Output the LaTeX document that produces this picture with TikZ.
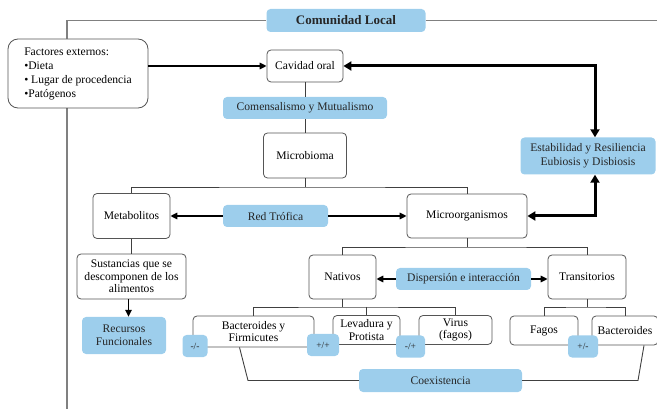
\documentclass[tikz,border=0pt]{standalone}
\usepackage{fontspec}
\setmainfont{Liberation Serif}
\usetikzlibrary{positioning,arrows.meta}
\definecolor{celeste}{RGB}{157,206,236}
\definecolor{borde}{RGB}{85,85,85}

\begin{document}
\begin{tikzpicture}[x=1pt,y=-1pt,inner sep=1pt,
  font=\fontsize{11.6}{13}\selectfont,
  caja/.style={draw=borde,line width=0.8pt,rounded corners=4pt,fill=white,align=center},
  azul/.style={fill=celeste,rounded corners=4pt,align=center,text=black!85},
  signo/.style={azul,font=\fontsize{9.5}{11}\selectfont,minimum width=29pt,minimum height=22pt},
  linea/.style={draw=black!75,line width=0.9pt},
  flecha/.style={draw=black,line width=1.5pt,-{Triangle[length=7pt,width=6.5pt]}},
  doble/.style={draw=black,line width=3pt,{Triangle[length=8pt,width=9pt]}-{Triangle[length=8pt,width=9pt]}}]
\useasboundingbox (0,0) rectangle (657,409);

\node (comunidad) at (346,20.5) [azul,minimum width=159pt,minimum height=23pt,font=\fontsize{13}{15}\selectfont\bfseries] {Comunidad Local};
% marco
\draw [draw=black!50,line width=1.2pt] (67,409) -- (67,20.5) -- (comunidad.west);
\draw [draw=black!50,line width=1.2pt] (comunidad.east) -- (657,20.5);

\node (factores) at (78,73.5) [caja,rounded corners=10pt,align=left,minimum width=140pt,minimum height=69pt,font=\fontsize{11.6}{14}\selectfont] {Factores externos:\\•Dieta\\• Lugar de procedencia\\•Patógenos};
\node (cavidad) at (305,66) [caja,minimum width=76pt,minimum height=32pt] {Cavidad oral};
\node (comensal) at (305,108) [azul,minimum width=164pt,minimum height=22pt] {Comensalismo y Mutualismo};
\node (microbioma) at (305,155.5) [caja,minimum width=83pt,minimum height=45pt] {Microbioma};
\node (estab) at (588,156) [azul,minimum width=135pt,minimum height=37pt,font=\fontsize{11.6}{14}\selectfont] {Estabilidad y Resiliencia\\Eubiosis y Disbiosis};

\node (metab) at (131.5,216) [caja,minimum width=77pt,minimum height=45pt] {Metabolitos};
\node (red) at (275.5,216) [azul,minimum width=105pt,minimum height=22pt] {Red Trófica};
\node (microorg) at (467,216) [caja,minimum width=120pt,minimum height=44pt] {Microorganismos};
\node (sustancias) at (131.5,276.5) [caja,minimum width=109pt,minimum height=45pt,font=\fontsize{11.6}{12.5}\selectfont] {Sustancias que se\\descomponen de los\\alimentos};
\node (recursos) at (124,335.5) [azul,minimum width=84pt,minimum height=37pt] {Recursos\\Funcionales};

\node (nativos) at (342.5,277) [caja,minimum width=67pt,minimum height=44pt] {Nativos};
\node (disp) at (463.5,279) [azul,minimum width=135pt,minimum height=22pt] {Dispersión e interacción};
\node (transit) at (587,277) [caja,minimum width=78pt,minimum height=44pt] {Transitorios};

% fila de abajo
\node (bactfirm) at (253.5,331.5) [caja,minimum width=121pt,minimum height=31pt,font=\fontsize{11.6}{12}\selectfont] {Bacteroides y\\Firmicutes};
\node (levadura) at (366.5,330) [caja,minimum width=67pt,minimum height=29pt,font=\fontsize{11.6}{12.5}\selectfont] {Levadura y\\Protista};
\node (virus) at (455.5,330) [caja,minimum width=73pt,minimum height=29pt,font=\fontsize{11.6}{12.5}\selectfont] {Virus\\(fagos)};
\node (fagos) at (544,330.5) [caja,minimum width=68pt,minimum height=29pt] {Fagos};
\node (bacter) at (625,330.5) [caja,minimum width=66pt,minimum height=29pt] {Bacteroides};
\node (coex) at (440.5,380.5) [azul,minimum width=163pt,minimum height=23pt] {Coexistencia};

% ramas
\coordinate (ramaA) at (305,187);
\coordinate (ramaB) at (467,247);
\coordinate (ramaC) at (342.5,307);
\coordinate (ramaD) at (587,307);
\draw [linea] (cavidad) -- (comensal);
\draw [linea] (comensal) -- (microbioma);
\draw [linea] (microbioma) -- (ramaA);
\draw [linea] (metab.north) |- (ramaA) -| (microorg.north);
\draw [linea] (metab) -- (sustancias);
\draw [linea] (microorg) -- (ramaB);
\draw [linea] (nativos.north) |- (ramaB) -| (transit.north);
\draw [linea] (nativos) -- (ramaC);
\draw [linea] (bactfirm.north) |- (ramaC) -| (virus.north);
\draw [linea] (ramaC -| levadura.north) -- (levadura.north);
\draw [linea] (transit) -- (ramaD);
\draw [linea] (fagos.north) |- (ramaD) -| (bacter.north);

% coexistencia
\coordinate (codoA) at (248,380.5);
\coordinate (codoB) at (638,380.5);
\draw [linea] ([xshift=-14pt]bactfirm.south) -- (codoA) -- (coex.west);
\draw [linea] (coex.east) -- (codoB) -- ([xshift=19pt]bacter.south);

% flechas
\draw [flecha] (factores.east |- cavidad.west) -- (cavidad.west);
\draw [flecha] (red) -- (metab);
\draw [flecha] (red) -- (microorg);
\draw [flecha] ([xshift=-3pt]sustancias.south) -- ([xshift=-3pt]sustancias.south |- recursos.north);
\draw [flecha] (disp.west) -- (disp.west -| nativos.east);
\draw [flecha] (disp.east) -- (disp.east -| transit.west);
\draw [doble] ([xshift=7pt]estab.north) |- (cavidad.east);
\draw [doble] ([xshift=7pt]estab.south) |- (microorg.east);

\node (t1) at (195,346) [signo,minimum width=25pt] {-/-};
\node (t2) at (323,345) [signo,minimum width=32pt] {+/+};
\node (t3) at (410.5,346.5) [signo] {-/+};
\node (t4) at (583,346.5) [signo,minimum width=30pt] {+/-};
\end{tikzpicture}
\end{document}
